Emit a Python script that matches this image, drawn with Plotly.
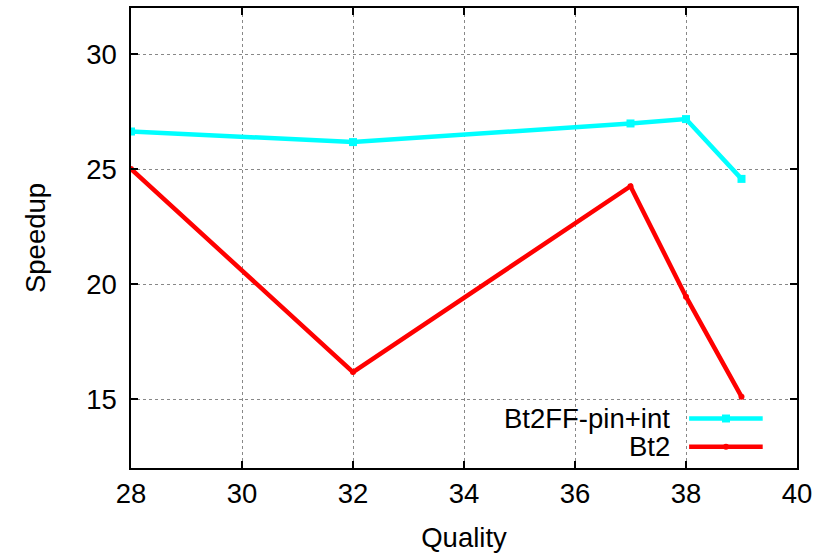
import plotly.graph_objects as go

quality = [28, 32, 37, 38, 39]
bt2ff_pin_int = [26.63, 26.17, 26.98, 27.17, 24.57]
bt2 = [25.0, 16.17, 24.25, 19.45, 15.1]

names = ["Bt2FF-pin+int", "Bt2"]
colors = ["#00ffff", "#ff0000"]

FONT = "Liberation Sans, Arial, Helvetica, sans-serif"
FS = 27.5

fig = go.Figure()
fig.add_trace(go.Scatter(x=quality, y=bt2ff_pin_int, mode="lines+markers", name=names[0],
                         line=dict(color=colors[0], width=4.5),
                         marker=dict(symbol="square", size=8, color=colors[0])))
fig.add_trace(go.Scatter(x=quality, y=bt2, mode="lines+markers", name=names[1],
                         line=dict(color=colors[1], width=4.5),
                         marker=dict(symbol="circle", size=6, color=colors[1])))

axis_common = dict(
    showline=True, linecolor="black", linewidth=1.5, mirror="ticks",
    ticks="inside", ticklen=7, tickcolor="black", tickwidth=1.5,
    showgrid=True, gridcolor="#888888", gridwidth=1, griddash="dot",
    zeroline=False, tickfont=dict(family=FONT, size=FS, color="black"),
)
fig.update_xaxes(range=[28, 40], dtick=2, tick0=28,
                 title=dict(text="Quality", font=dict(family=FONT, size=FS, color="black"), standoff=20),
                 **axis_common)
fig.update_yaxes(range=[12, 32], tickvals=[15, 20, 25, 30], ticklabelstandoff=7,
                 title=dict(text="Speedup", font=dict(family=FONT, size=FS, color="black"), standoff=33),
                 **axis_common)

# manual gnuplot-style legend (text then sample)
W, H = 666.0, 462.0
leg_rows = [0.1076, 0.046]
text_right = 0.8119
lx0, lx1, lmid = 0.838, 0.9485, 0.8934
for i, (nm, c) in enumerate(zip(names, colors)):
    yy = leg_rows[i]
    fig.add_annotation(x=text_right, y=yy, xref="paper", yref="paper", text=nm,
                       showarrow=False, xanchor="right", yanchor="middle",
                       font=dict(family=FONT, size=FS, color="black"))
    fig.add_shape(type="line", xref="paper", yref="paper", x0=lx0, x1=lx1, y0=yy, y1=yy,
                  line=dict(color=c, width=4.5))
    if i == 0:
        hx, hy = 4 / W, 4 / H
        fig.add_shape(type="rect", xref="paper", yref="paper", x0=lmid - hx, x1=lmid + hx,
                      y0=yy - hy, y1=yy + hy, fillcolor=c, line=dict(width=0))
    else:
        hx, hy = 3 / W, 3 / H
        fig.add_shape(type="circle", xref="paper", yref="paper", x0=lmid - hx, x1=lmid + hx,
                      y0=yy - hy, y1=yy + hy, fillcolor=c, line=dict(width=0))

fig.update_layout(
    width=825, height=555, showlegend=False,
    margin=dict(l=131, r=28, t=6, b=87),
    plot_bgcolor="white", paper_bgcolor="white",
    font=dict(family=FONT, size=FS, color="black"),
)
fig.write_html("out.html")
